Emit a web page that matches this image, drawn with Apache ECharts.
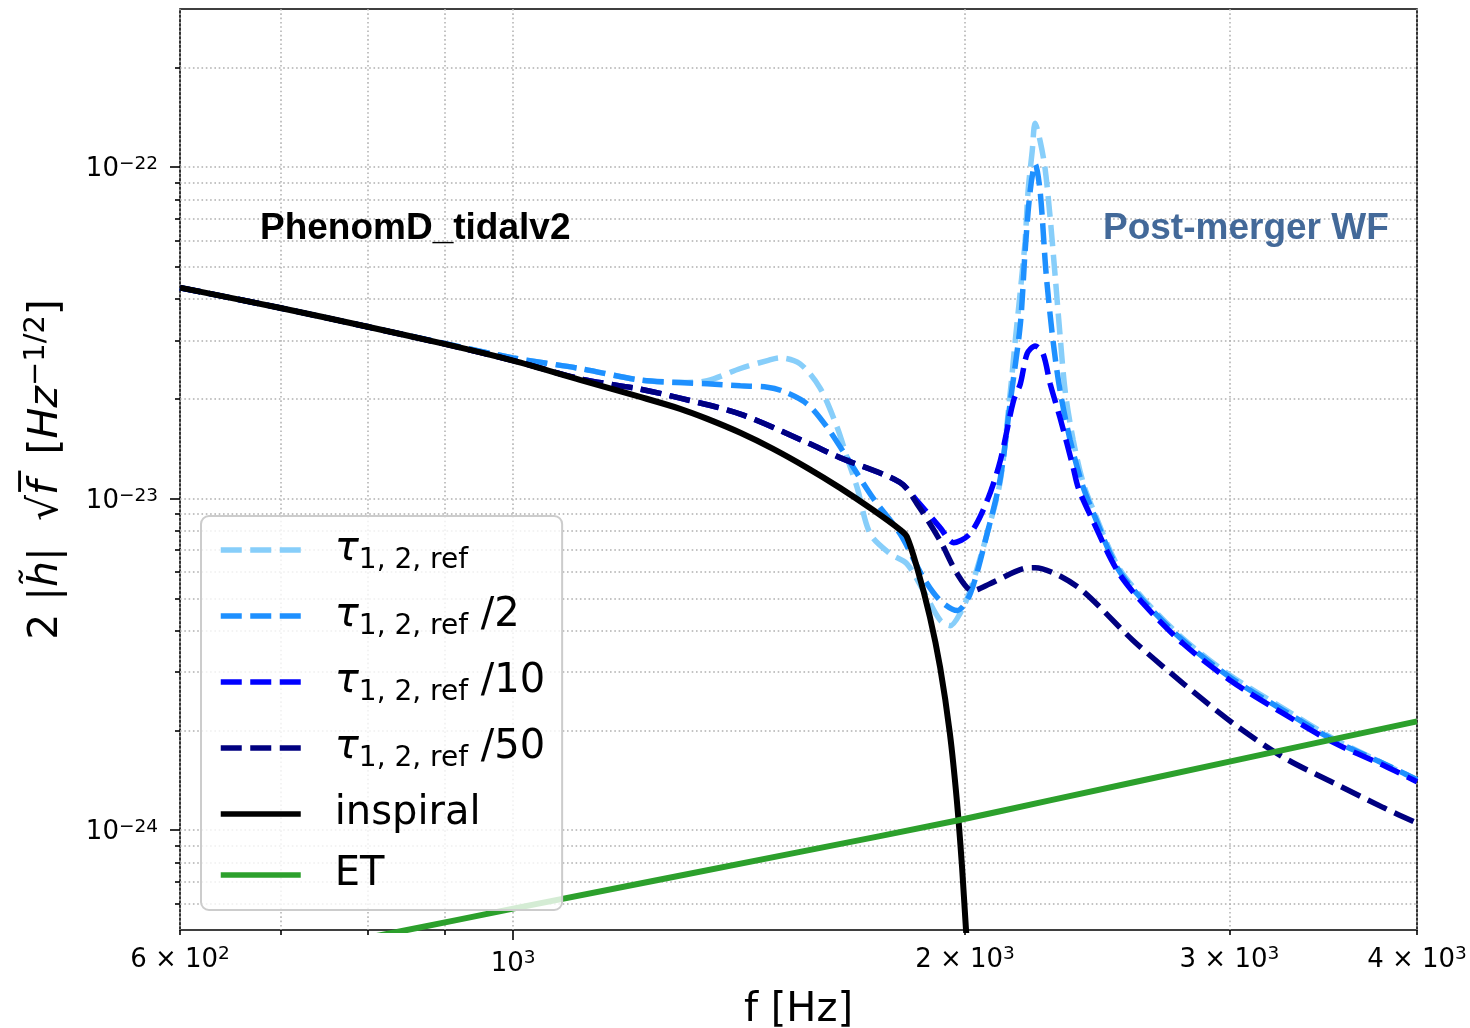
<!DOCTYPE html>
<html><head><meta charset="utf-8">
<script src="https://cdn.jsdelivr.net/npm/echarts@6/dist/echarts.min.js"></script>
<style>html,body{margin:0;padding:0;background:#fff}#c{width:1470px;height:1028px}</style>
</head><body><div id="c"></div>
<script>
// ---------- axis ranges & ticks (Hz, strain units) ----------
const xMin = 600, xMax = 4000;
const yMin = 5e-25, yMax = 3e-22;
const xTickMajor = [1000];
const xTickMinor = [600, 700, 800, 900, 2000, 3000, 4000];
const xLabelMajor = [1000];
const xLabelMinor = [600, 2000, 3000, 4000];
const yTickMajor = [1e-24, 1e-23, 1e-22];
const yTickMinor = [6e-25, 7e-25, 8e-25, 9e-25,
  2e-24, 3e-24, 4e-24, 5e-24, 6e-24, 7e-24, 8e-24, 9e-24,
  2e-23, 3e-23, 4e-23, 5e-23, 6e-23, 7e-23, 8e-23, 9e-23, 2e-22];

// ---------- series names ----------
const seriesNames = ['tau', 'tau/2', 'tau/10', 'tau/50', 'inspiral', 'ET'];
const seriesColors = ['#87CEFA', '#1E90FF', '#0000FF', '#000080', '#000000', '#2CA02C'];

// ---------- data: frequency [Hz] and 2|h|sqrt(f) ----------
const freqTau1 = [600,700,800,900,1000,1108,1215,1292,1347,1417,1477,1506,1553,1601,1644,1669,1695,1729,1783,1829,1876,1925,1955,1985,2016,2069,2111,2144,2160,2177,2193,2203,2217,2227,2244,2261,2279,2297,2314,2332,2361,2398,2436,2526,2628,2795,3004,3258,3518,3799,4000];
const ampTau1 = [4.33e-23,3.76e-23,3.30e-23,2.94e-23,2.66e-23,2.47e-23,2.28e-23,2.24e-23,2.27e-23,2.47e-23,2.61e-23,2.66e-23,2.55e-23,2.16e-23,1.64e-23,1.33e-23,1.08e-23,7.85e-24,6.82e-24,6.37e-24,5.28e-24,4.30e-24,4.14e-24,4.51e-24,5.3e-24,7.85e-24,1.13e-23,2.11e-23,2.99e-23,4.23e-23,5.98e-23,8.47e-23,1.117e-22,1.357e-22,1.2e-22,9.93e-23,7.02e-23,4.63e-23,3.09e-23,2.11e-23,1.50e-23,1.11e-23,9.2e-24,6.3e-24,5.0e-24,3.78e-24,2.93e-24,2.33e-24,1.89e-24,1.59e-24,1.42e-24];

const freqTau2 = [600,700,800,900,1000,1108,1215,1292,1347,1417,1477,1513,1570,1619,1669,1736,1810,1876,1925,1976,2016,2069,2111,2144,2177,2193,2210,2227,2244,2265,2289,2314,2350,2393,2436,2526,2628,2795,3004,3258,3518,3799,4000];
const ampTau2 = [4.33e-23,3.76e-23,3.30e-23,2.94e-23,2.66e-23,2.47e-23,2.28e-23,2.24e-23,2.22e-23,2.19e-23,2.17e-23,2.11e-23,1.93e-23,1.64e-23,1.33e-23,1.007e-23,7.85e-24,5.78e-24,4.93e-24,4.60e-24,5.17e-24,7.85e-24,1.15e-23,1.97e-23,3.36e-23,5.58e-23,8.47e-23,1.021e-22,8.47e-23,4.76e-23,2.99e-23,2.11e-23,1.50e-23,1.11e-23,9.0e-24,6.19e-24,4.93e-24,3.73e-24,2.89e-24,2.30e-24,1.87e-24,1.59e-24,1.42e-24];

const freqTau10 = [600,700,800,900,1000,1108,1215,1292,1417,1570,1651,1810,1858,1925,1965,2016,2069,2111,2154,2177,2200,2227,2254,2279,2314,2361,2379,2424,2526,2628,2795,3004,3258,3518,3799,4000];
const ampTau10 = [4.33e-23,3.76e-23,3.30e-23,2.93e-23,2.61e-23,2.30e-23,2.14e-23,2.01e-23,1.80e-23,1.476e-23,1.33e-23,1.12e-23,9.86e-24,8.18e-24,7.37e-24,7.85e-24,9.86e-24,1.30e-23,1.97e-23,2.22e-23,2.74e-23,2.89e-23,2.74e-23,2.22e-23,1.75e-23,1.24e-23,1.08e-23,8.9e-24,6.07e-24,4.83e-24,3.65e-24,2.83e-24,2.25e-24,1.84e-24,1.57e-24,1.40e-24];

const freqTau50 = [600,700,800,900,1000,1108,1215,1292,1417,1570,1651,1810,1858,1925,1976,2023,2078,2187,2227,2304,2398,2589,2795,3017,3258,3518,3799,4000];
const ampTau50 = [4.33e-23,3.76e-23,3.30e-23,2.93e-23,2.61e-23,2.30e-23,2.14e-23,2.01e-23,1.80e-23,1.476e-23,1.33e-23,1.12e-23,9.65e-24,7.47e-24,5.94e-24,5.28e-24,5.54e-24,6.15e-24,6.19e-24,5.9e-24,5.25e-24,3.73e-24,2.77e-24,2.10e-24,1.66e-24,1.39e-24,1.17e-24,1.05e-24];

const freqInspiral = [600,700,800,900,1000,1108,1215,1292,1347,1417,1489,1570,1651,1736,1810,1829,1858,1895,1925,1954,1975,1991,2003,2015];
const ampInspiral = [4.33e-23,3.76e-23,3.30e-23,2.93e-23,2.61e-23,2.283e-23,2.028e-23,1.867e-23,1.741e-23,1.581e-23,1.416e-23,1.239e-23,1.078e-23,9.26e-24,8.07e-24,7.69e-24,6.2e-24,4.4e-24,3.1e-24,1.96e-24,1.23e-24,7.7e-25,5.0e-25,3.5e-25];

const freqET = [800, 837, 1000, 1553, 1976, 2278, 3000, 4000];
const ampET = [4.74e-25, 4.93e-25, 5.8e-25, 8.6e-25, 1.07e-24, 1.23e-24, 1.61e-24, 2.13e-24];

const allFreq = [freqTau1, freqTau2, freqTau10, freqTau50, freqInspiral, freqET];
const allAmp = [ampTau1, ampTau2, ampTau10, ampTau50, ampInspiral, ampET];

// ---------- helpers ----------
const lg = Math.log10;
const sup = (e) => String(e).replace('-', '\u2212');
function fmtX(L) {
  const v = Math.round(Math.pow(10, L));
  const e = Math.floor(lg(v) + 1e-9);
  const m = Math.round(v / Math.pow(10, e));
  return m === 1 ? `{b|10}{s|${sup(e)}}` : `{b|${m} \u00d7 10}{s|${sup(e)}}`;
}
function fmtY(L) {
  return `{b|10}{s|${sup(Math.round(L))}}`;
}
const FONT = 'DejaVu Sans';
const tickRich = {
  b: { fontSize: 26, fontFamily: FONT, color: '#000', lineHeight: 30 },
  s: { fontSize: 18.5, fontFamily: FONT, color: '#000', lineHeight: 16, verticalAlign: 'top' }
};
const gridLine = { show: true, lineStyle: { color: '#b0b0b0', width: 1.5, type: [1.6, 2.7] } };

function legendLabel(name) {
  if (name.startsWith('tau')) {
    const div = name.slice(3);
    return '{t|\u03c4}{sub|1, 2, ref}' + (div ? `{n| ${div}}` : '');
  }
  return `{n|${name}}`;
}

const series = seriesNames.map((name, k) => {
  const dashed = k < 4;
  return {
    name, type: 'line', xAxisIndex: 0, yAxisIndex: 0,
    data: allFreq[k].map((f, i) => [lg(f), lg(allAmp[k][i])]),
    symbol: 'none', smooth: 0.3, clip: true,
    lineStyle: { color: seriesColors[k], width: dashed ? 5.5 : 6, type: dashed ? [21, 8.5] : 'solid', cap: 'butt' },
    itemStyle: { color: seriesColors[k] },
    z: 3
  };
});

const chart = echarts.init(document.getElementById('c'), null, { renderer: 'canvas' });
chart.setOption({
  backgroundColor: '#fff',
  animation: false,
  grid: { left: 180, right: 53, top: 9, bottom: 98, containLabel: false, outerBoundsMode: 'none',
          show: true, borderColor: '#000', borderWidth: 1.6, backgroundColor: 'transparent' },
  xAxis: [
    { type: 'value', position: 'bottom', min: lg(xMin), max: lg(xMax),
      axisLine: { show: false, onZero: false },
      axisTick: { show: true, length: 10, lineStyle: { color: '#000', width: 1.6 }, customValues: xTickMajor.map(lg) },
      axisLabel: { show: true, margin: 19, customValues: xLabelMajor.map(lg), formatter: fmtX, rich: tickRich },
      splitLine: gridLine,
      name: 'f [Hz]', nameLocation: 'middle', nameGap: 61,
      nameTextStyle: { fontSize: 40, fontFamily: FONT, color: '#000' } },
    { type: 'value', position: 'bottom', min: lg(xMin), max: lg(xMax),
      axisLine: { show: false, onZero: false },
      axisTick: { show: true, length: 5, lineStyle: { color: '#000', width: 1.6 }, customValues: xTickMinor.map(lg) },
      axisLabel: { show: true, margin: 15, customValues: xLabelMinor.map(lg), formatter: fmtX, rich: tickRich },
      splitLine: gridLine }
  ],
  yAxis: [
    { type: 'value', position: 'left', min: lg(yMin), max: lg(yMax),
      axisLine: { show: false, onZero: false },
      axisTick: { show: true, length: 10, lineStyle: { color: '#000', width: 1.6 }, customValues: yTickMajor.map(lg) },
      axisLabel: { show: true, margin: 22, padding: [5, 0, 0, 0], customValues: yTickMajor.map(lg), formatter: fmtY, rich: tickRich },
      splitLine: gridLine,
      name: '{n|2 |}{i|h\u0303}{n||  \u221a}{i|f\u0305}{n|  [}{i|Hz}{s|\u22121/2}{n|]}',
      nameLocation: 'middle', nameGap: 110, nameRotate: 90,
      nameTextStyle: { rich: {
        n: { fontSize: 41, fontFamily: FONT, color: '#000', lineHeight: 48 },
        i: { fontSize: 41, fontFamily: FONT, fontStyle: 'italic', color: '#000', lineHeight: 48 },
        s: { fontSize: 29, fontFamily: FONT, color: '#000', lineHeight: 28, verticalAlign: 'top' }
      } } },
    { type: 'value', position: 'left', min: lg(yMin), max: lg(yMax),
      axisLine: { show: false, onZero: false },
      axisTick: { show: true, length: 5, lineStyle: { color: '#000', width: 1.6 }, customValues: yTickMinor.map(lg) },
      axisLabel: { show: false },
      splitLine: gridLine }
  ],
  legend: {
    orient: 'vertical', left: 201, top: 516,
    padding: [14, 17, 15, 17],
    itemWidth: 80, itemHeight: 14, itemGap: 21,
    backgroundColor: 'rgba(255,255,255,0.8)', borderColor: '#cccccc', borderWidth: 2, borderRadius: 8,
    data: seriesNames,
    itemStyle: { opacity: 0 },
    lineStyle: { width: 5.5 },
    formatter: legendLabel,
    textStyle: {
      padding: [0, 0, 0, 29],
      rich: {
        n: { fontSize: 40, fontFamily: FONT, color: '#000', lineHeight: 50 },
        t: { fontSize: 40, fontFamily: FONT, fontStyle: 'italic', color: '#000', lineHeight: 50 },
        sub: { fontSize: 28, fontFamily: FONT, color: '#000', lineHeight: 30, verticalAlign: 'bottom' }
      }
    }
  },
  graphic: [
    { type: 'text', left: 260, top: 210, z: 10,
      style: { text: 'PhenomD_tidalv2', fill: '#000', font: 'bold 37px "Liberation Sans"' } },
    { type: 'text', left: 1103, top: 210, z: 10,
      style: { text: 'Post-merger WF', fill: '#436999', font: 'bold 37px "Liberation Sans"' } }
  ],
  series
});
</script></body></html>
